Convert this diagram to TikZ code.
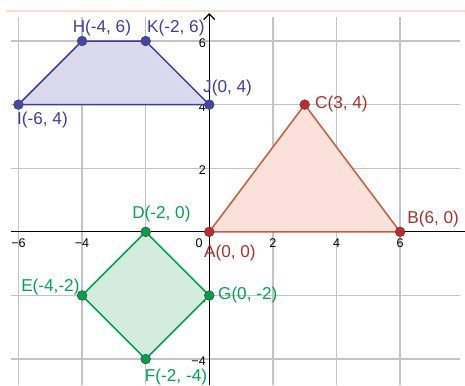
\documentclass[tikz,border=0pt]{standalone}
\usepackage{fontspec}
\setmainfont{Liberation Sans}
\usepackage{xcolor}
\usetikzlibrary{arrows.meta, positioning}

\definecolor{gridgray}{RGB}{196,196,196}
\definecolor{trapline}{RGB}{62,62,160}
\definecolor{trapfill}{RGB}{218,218,236}
\definecolor{trapdot}{RGB}{66,70,170}
\definecolor{triline}{RGB}{204,92,62}
\definecolor{trifill}{RGB}{250,226,218}
\definecolor{tridot}{RGB}{196,40,40}
\definecolor{trilabel}{RGB}{170,48,40}
\definecolor{sqline}{RGB}{0,164,80}
\definecolor{sqfill}{RGB}{212,236,220}
\definecolor{sqdot}{RGB}{0,160,70}
\definecolor{topline}{RGB}{255,218,202}

\begin{document}
\begin{tikzpicture}[x=0.8cm, y=0.8cm]
\tikzstyle{gridline} = [draw=gridgray, line width=0.9pt]
\tikzstyle{axis} = [draw=black, line width=0.9pt]
\tikzstyle{tick} = [font=\fontsize{9}{10}\selectfont, text=black, inner sep=0pt]
\tikzstyle{lbl} = [font=\fontsize{12.3}{14}\selectfont, inner sep=0pt, anchor=west]
\tikzstyle{vertex} = [circle, draw=black!70, line width=0.4pt, minimum size=7pt, inner sep=0pt]
\useasboundingbox (-6.58,-4.82) rectangle (8.04,7.29);

% grid
\foreach \gx in {-6,-4,-2,2,4,6}
  \path [gridline] (\gx,-4.82) -- (\gx,6.75);
\foreach \gy in {-4,-2,2,4,6}
  \path [gridline] (-6.23,\gy) -- (7.89,\gy);
\path [draw=topline, line width=1.4pt] (-6.39,6.95) -- (8.04,6.95);

% axes
\path [axis] (-6.23,0) -- (8.04,0);
\path [axis, -{Straight Barb[length=4pt, width=8pt]}] (0,-4.82) -- (0,6.88);
\foreach \gx in {-6,-4,-2,2,4,6}
  \node [tick] (tx\gx) at (\gx,-0.36) {\ifnum\gx<0 −\the\numexpr-\gx\relax\else\gx\fi};
\node [tick] (t0) at (-0.32,-0.36) {0};
\foreach \gy in {-4,-2,2,4,6}
  \node [tick, anchor=east] (ty\gy) at (-0.1,\gy-0.07) {\ifnum\gy<0 −\the\numexpr-\gy\relax\else\gy\fi};

% vertices
\coordinate (H) at (-4,6);
\coordinate (K) at (-2,6);
\coordinate (J) at (0,4);
\coordinate (I) at (-6,4);
\coordinate (A) at (0,0);
\coordinate (B) at (6,0);
\coordinate (C) at (3,4);
\coordinate (D) at (-2,0);
\coordinate (E) at (-4,-2);
\coordinate (F) at (-2,-4);
\coordinate (G) at (0,-2);

% polygons
\path [draw=trapline, fill=trapfill, line width=1.1pt, line join=round] (H) -- (K) -- (J) -- (I) -- cycle;
\path [draw=triline, fill=trifill, line width=1.1pt, line join=round] (A) -- (B) -- (C) -- cycle;
\path [draw=sqline, fill=sqfill, line width=1.1pt, line join=round] (D) -- (G) -- (F) -- (E) -- cycle;

% points
\foreach \p in {H,K,J,I}
  \node [vertex, fill=trapdot] (dot\p) at (\p) {};
\foreach \p in {A,B,C}
  \node [vertex, fill=tridot] (dot\p) at (\p) {};
\foreach \p in {D,E,F,G}
  \node [vertex, fill=sqdot] (dot\p) at (\p) {};

% labels
\node [lbl, text=trapline] (labH) at (-4.30,6.41) {H(-4, 6)};
\node [lbl, text=trapline] (labK) at (-1.96,6.41) {K(-2, 6)};
\node [lbl, text=trapline] (labI) at (-6.05,3.51) {I(-6, 4)};
\node [lbl, text=trapline] (labJ) at (-0.20,4.52) {J(0, 4)};
\node [lbl, text=trilabel] (labC) at (3.32,4.02) {C(3, 4)};
\node [lbl, text=trilabel] (labB) at (6.22,0.40) {B(6, 0)};
\node [lbl, text=trilabel] (labA) at (-0.17,-0.67) {A(0, 0)};
\node [lbl, text=sqline] (labD) at (-2.43,0.56) {D(-2, 0)};
\node [lbl, text=sqline] (labE) at (-5.92,-1.73) {E(-4,-2)};
\node [lbl, text=sqline] (labG) at (0.27,-1.99) {G(0, -2)};
\node [lbl, text=sqline] (labF) at (-2.03,-4.57) {F(-2, -4)};
\end{tikzpicture}
\end{document}
